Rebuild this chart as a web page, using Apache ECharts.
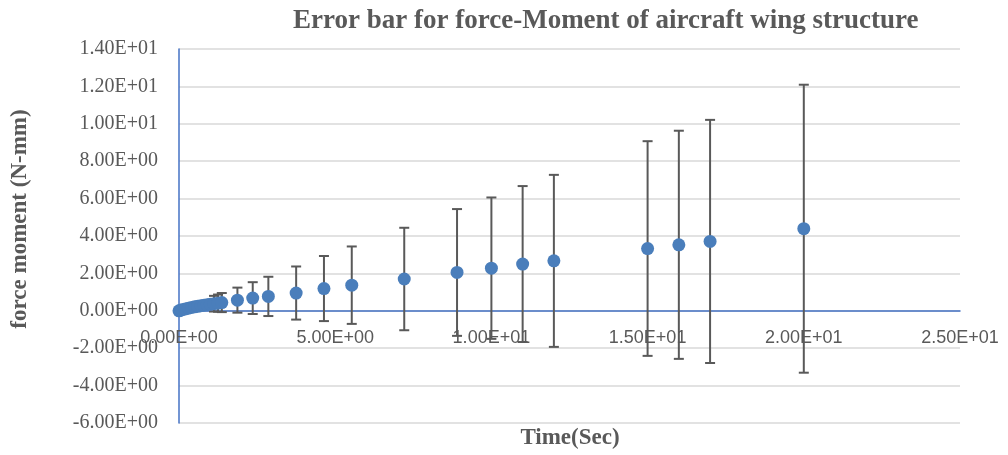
<!DOCTYPE html>
<html>
<head>
<meta charset="utf-8">
<script src="https://cdn.jsdelivr.net/npm/echarts@6/dist/echarts.min.js"></script>
<style>
  html, body { margin: 0; padding: 0; background: #fff; }
  #main { width: 1008px; height: 455px; }
</style>
</head>
<body>
<div id="main"></div>
<script>
// time (sec)
var times = [0, 0.05, 0.1, 0.2, 0.3, 0.4, 0.5, 0.6, 0.7, 0.8, 0.9, 1.0, 1.12, 1.25, 1.37,
  1.87, 2.36, 2.86, 3.75, 4.64, 5.53, 7.21, 8.9, 10.0, 11.0, 12.0, 15.0, 16.0, 17.0, 20.0];
// force moment (N-mm)
var moments = [0, 0.03, 0.06, 0.1, 0.14, 0.18, 0.21, 0.24, 0.27, 0.3, 0.33, 0.35, 0.38, 0.41, 0.44,
  0.57, 0.68, 0.77, 0.95, 1.19, 1.37, 1.70, 2.05, 2.28, 2.50, 2.67, 3.33, 3.53, 3.71, 4.39];
// +/- error
var errors = [0, 0.01, 0.02, 0.03, 0.05, 0.07, 0.09, 0.11, 0.13, 0.15, 0.17, 0.2, 0.42, 0.46, 0.51,
  0.67, 0.85, 1.05, 1.42, 1.74, 2.07, 2.74, 3.39, 3.78, 4.17, 4.6, 5.74, 6.1, 6.5, 7.7];

var yTicks = { min: -6, max: 14, step: 2 };
var xTicks = { min: 0, max: 25, step: 5 };

function sci(v) {
  // Excel style 1.40E+01
  var s = Number(v).toExponential(2).toUpperCase();
  var p = s.split('E');
  var e = parseInt(p[1], 10);
  var sign = e < 0 ? '-' : '+';
  var ae = Math.abs(e);
  return p[0] + 'E' + sign + (ae < 10 ? '0' + ae : ae);
}

var points = [];
var bars = [];
for (var i = 0; i < times.length; i++) {
  points.push([times[i], moments[i]]);
  bars.push([times[i], moments[i] - errors[i], moments[i] + errors[i]]);
}

var gridTop = 49, gridBottom = 32, H = 455;
// x axis sits at y = 0, move it up from the bottom edge
var plotH = H - gridTop - gridBottom;
var zeroOffset = plotH * (0 - yTicks.min) / (yTicks.max - yTicks.min);

var chart = echarts.init(document.getElementById('main'));

var nameStyle = {
  fontFamily: 'Liberation Serif',
  fontWeight: 'bold',
  fontSize: 23,
  fill: '#595959'
};

var option = {
  animation: false,
  title: {
    text: 'Error bar for force-Moment of aircraft wing structure',
    left: 288,
    top: 3,
    textStyle: {
      fontFamily: 'Liberation Serif',
      fontWeight: 'bold',
      fontSize: 27,
      color: '#595959'
    }
  },
  grid: {
    left: 179,
    right: 48,
    top: gridTop,
    bottom: gridBottom,
    outerBoundsMode: 'none'
  },
  graphic: [
    {
      type: 'text',
      x: 570,
      y: 438,
      style: Object.assign({ text: 'Time(Sec)', align: 'center', verticalAlign: 'middle' }, nameStyle)
    },
    {
      type: 'text',
      x: 20,
      y: 219,
      rotation: Math.PI / 2,
      style: Object.assign({ text: 'force moment (N-mm)', align: 'center', verticalAlign: 'middle' }, nameStyle)
    }
  ],
  xAxis: {
    type: 'value',
    min: xTicks.min,
    max: xTicks.max,
    interval: xTicks.step,
    offset: -zeroOffset,
    axisLine: { onZero: false, lineStyle: { color: '#4472C4', width: 1.5 } },
    axisTick: { show: false },
    splitLine: { show: false },
    axisLabel: {
      margin: 18,
      fontFamily: 'Liberation Sans',
      fontSize: 18,
      color: '#595959',
      formatter: sci
    }
  },
  yAxis: {
    type: 'value',
    min: yTicks.min,
    max: yTicks.max,
    interval: yTicks.step,
    axisLine: { show: true, onZero: false, lineStyle: { color: '#4472C4', width: 1.5 } },
    axisTick: { show: false },
    splitLine: { lineStyle: { color: '#d9d9d9', width: 1.5 } },
    axisLabel: {
      margin: 21,
      fontFamily: 'Liberation Serif',
      fontSize: 20,
      color: '#595959',
      formatter: sci
    }
  },
  series: [
    {
      type: 'custom',
      z: 1,
      data: bars,
      renderItem: function (params, api) {
        var x = api.value(0);
        var lo = api.coord([x, api.value(1)]);
        var hi = api.coord([x, api.value(2)]);
        var w = 5;
        var style = { stroke: '#595959', lineWidth: 2 };
        return {
          type: 'group',
          children: [
            { type: 'line', shape: { x1: hi[0], y1: hi[1], x2: lo[0], y2: lo[1] }, style: style },
            { type: 'line', shape: { x1: hi[0] - w, y1: hi[1], x2: hi[0] + w, y2: hi[1] }, style: style },
            { type: 'line', shape: { x1: lo[0] - w, y1: lo[1], x2: lo[0] + w, y2: lo[1] }, style: style }
          ]
        };
      }
    },
    {
      type: 'scatter',
      z: 2,
      data: points,
      symbol: 'circle',
      symbolSize: 13,
      itemStyle: { color: '#4a7ebb', opacity: 1 }
    }
  ]
};

chart.setOption(option);
</script>
</body>
</html>
